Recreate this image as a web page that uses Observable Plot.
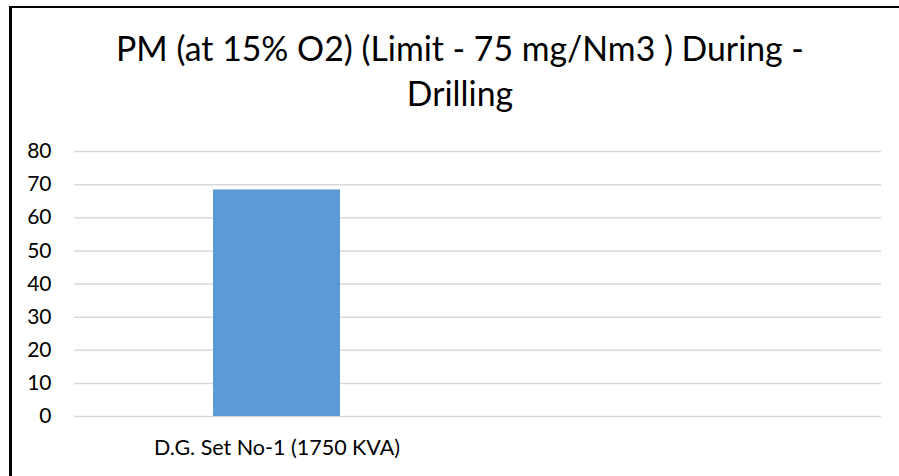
<!DOCTYPE html>
<html>
<head>
<meta charset="utf-8">
<script src="https://cdn.jsdelivr.net/npm/d3@7"></script>
<script src="https://cdn.jsdelivr.net/npm/@observablehq/plot@0.6"></script>
<style>
  html, body { margin: 0; padding: 0; background: #fff; }
  #frame { position: relative; width: 899px; height: 476px; overflow: hidden; background: #fff; }
  #border { position: absolute; left: 9px; top: 6px; width: 960px; height: 520px;
            border-left: 3px solid #000; border-top: 2px solid #000; box-sizing: border-box; }
  #title { position: absolute; left: 0; width: 920px; top: 26px; text-align: center; white-space: nowrap;
           font-family: Lato, "Open Sans", sans-serif; font-size: 33.8px; line-height: 45px; color: #000; }
  #chart { position: absolute; left: 0; top: 130px; }
</style>
</head>
<body>
<div id="frame">
  <div id="border"></div>
  <div id="title">PM (at 15% O2) (Limit - 75 mg/Nm3 ) During -<br>Drilling</div>
  <div id="chart"></div>
</div>
<script>
const categories = ["D.G. Set No-1 (1750 KVA)", " "];
const values = [68.4, null];
const yTicks = [0, 10, 20, 30, 40, 50, 60, 70, 80];

const data = categories.map((c, i) => ({category: c, value: values[i]}));

const plot = Plot.plot({
  width: 899,
  height: 346,
  marginLeft: 74,
  marginRight: 18,
  marginTop: 21,
  marginBottom: 60,
  style: {fontFamily: "Lato, 'Open Sans', sans-serif", fontSize: "21px", color: "#000", background: "transparent"},
  x: {domain: categories, paddingInner: 0.685, paddingOuter: 0.3425, label: null},
  y: {domain: [0, 80], ticks: yTicks, label: null},
  marks: [
    Plot.gridY(yTicks, {stroke: "#d9d9d9", strokeOpacity: 1, strokeWidth: 1.5}),
    Plot.barY(data.filter(d => d.value != null), {x: "category", y: "value", fill: "#5b9bd5"}),
    Plot.axisY(yTicks, {tickSize: 0, tickPadding: 23, fontSize: 21, label: null}),
    Plot.axisX({tickSize: 0, tickPadding: 23, fontSize: 21.5, label: null})
  ]
});
document.getElementById("chart").appendChild(plot);
</script>
</body>
</html>
